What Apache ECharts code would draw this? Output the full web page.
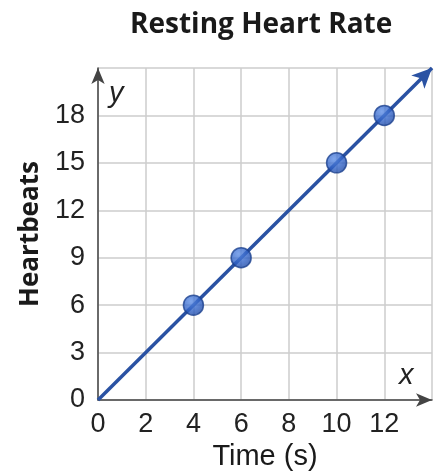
<!DOCTYPE html>
<html>
<head>
<meta charset="utf-8">
<script src="https://cdn.jsdelivr.net/npm/echarts@6/dist/echarts.min.js"></script>
<style>
  html, body { margin: 0; padding: 0; background: #fff; }
  #chart { width: 435px; height: 472px; }
</style>
</head>
<body>
<div id="chart"></div>
<script>
// 数据
var timeValues = [4, 6, 10, 12];
var beatValues = [6, 9, 15, 18];
var lineFrom = [0, 0];
var lineTo = [14, 21];
var xTickLabels = ['0', '2', '4', '6', '8', '10', '12'];
var yTickLabels = ['0', '3', '6', '9', '12', '15', '18'];

var points = [];
for (var i = 0; i < timeValues.length; i++) {
	points.push([timeValues[i], beatValues[i]]);
}

var chart = echarts.init(document.getElementById('chart'));
var narrow = '"Liberation Sans Narrow", "Liberation Sans", sans-serif';

chart.setOption({
	backgroundColor: '#fff',
	animation: false,
	title: {
		text: 'Resting Heart Rate',
		left: 125,
		top: 6,
		textStyle: {
			fontFamily: '"Open Sans", sans-serif',
			fontWeight: 'bold',
			fontSize: 28,
			color: '#1a1a1a'
		}
	},
	grid: {
		left: 98,
		right: 3,
		top: 68,
		bottom: 72,
		containLabel: false,
		outerBoundsMode: 'none'
	},
	xAxis: {
		type: 'value',
		min: 0,
		max: 14,
		interval: 2,
		name: 'Time (s)',
		nameLocation: 'middle',
		nameGap: 42,
		nameTextStyle: {
			fontFamily: narrow,
			fontSize: 29,
			color: '#1a1a1a'
		},
		axisLine: {
			symbol: ['none', 'arrow'],
			symbolSize: [10, 16],
			lineStyle: { color: '#444', width: 1.5 }
		},
		axisTick: { show: false },
		axisLabel: {
			margin: 11,
			fontFamily: narrow,
			fontSize: 27,
			color: '#222',
			formatter: function (v) {
				return xTickLabels[v / 2] || '';
			}
		},
		splitLine: { lineStyle: { color: '#cccccc', width: 1.5 } }
	},
	yAxis: {
		type: 'value',
		min: 0,
		max: 21,
		interval: 3,
		name: 'Heartbeats',
		nameLocation: 'middle',
		nameGap: 54,
		nameTextStyle: {
			fontFamily: '"Open Sans", sans-serif',
			fontWeight: 'bold',
			fontSize: 26,
			color: '#1a1a1a'
		},
		axisLine: {
			symbol: ['none', 'arrow'],
			symbolSize: [10, 16],
			lineStyle: { color: '#444', width: 1.5 }
		},
		axisTick: { show: false },
		axisLabel: {
			margin: 13,
			fontFamily: narrow,
			fontSize: 27,
			color: '#222',
			formatter: function (v) {
				return yTickLabels[v / 3] || '';
			}
		},
		splitLine: { lineStyle: { color: '#cccccc', width: 1.5 } }
	},
	graphic: [
		{
			type: 'text',
			left: 109,
			top: 79,
			style: {
				text: 'y',
				fontFamily: '"Liberation Sans", sans-serif',
				fontStyle: 'italic',
				fontSize: 29,
				fill: '#222'
			}
		},
		{
			type: 'text',
			left: 399,
			top: 361,
			style: {
				text: 'x',
				fontFamily: '"Liberation Sans", sans-serif',
				fontStyle: 'italic',
				fontSize: 29,
				fill: '#222'
			}
		}
	],
	series: [
		{
			name: 'rate',
			type: 'scatter',
			data: points,
			symbolSize: 20,
			z: 5,
			itemStyle: {
				color: new echarts.graphic.RadialGradient(0.38, 0.32, 0.75, [
					{ offset: 0, color: '#5f8fe6' },
					{ offset: 0.6, color: '#2f60c4' },
					{ offset: 1, color: '#1d469e' }
				]),
				borderColor: '#1c418f',
				borderWidth: 1.5
			},
			markLine: {
				silent: true,
				symbol: ['none', 'arrow'],
				symbolSize: [14, 20],
				label: { show: false },
				lineStyle: { color: '#2a52a3', width: 3.5, type: 'solid' },
				data: [[{ coord: lineFrom }, { coord: lineTo }]]
			}
		}
	]
});
</script>
</body>
</html>
